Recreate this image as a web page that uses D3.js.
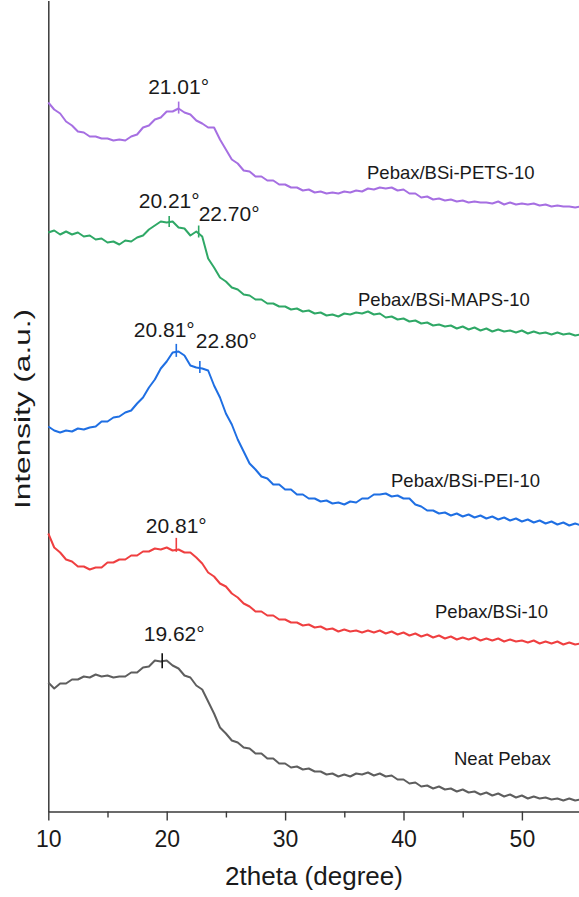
<!DOCTYPE html>
<html>
<head>
<meta charset="utf-8">
<script src="https://cdn.jsdelivr.net/npm/d3@7"></script>
<style>
  html, body { margin: 0; padding: 0; background: #fff; }
  svg { display: block; font-family: "Liberation Sans", Arial, sans-serif; }
</style>
</head>
<body>
<svg id="chart" width="579" height="897"></svg>
<script>
// ---------------- data ----------------
const twoTheta = [10,10.5,11,11.5,12,12.5,13,13.5,14,14.5,
  15,15.5,16,16.5,17,17.5,18,18.5,19,19.5,
  20,20.5,21,21.5,22,22.5,23,23.5,24,24.5,
  25,25.5,26,26.5,27,27.5,28,28.5,29,29.5,
  30,30.5,31,31.5,32,32.5,33,33.5,34,34.5,
  35,35.5,36,36.5,37,37.5,38,38.5,39,39.5,
  40,40.5,41,41.5,42,42.5,43,43.5,44,44.5,
  45,45.5,46,46.5,47,47.5,48,48.5,49,49.5,
  50,50.5,51,51.5,52,52.5,53,53.5,54,54.5,
  55];

const seriesNames = ["Pebax/BSi-PETS-10", "Pebax/BSi-MAPS-10", "Pebax/BSi-PEI-10", "Pebax/BSi-10", "Neat Pebax"];

// stacked intensities (a.u., offset as plotted)
const petsValues = [709,702,698,690,686,680,679,675,675,673,
  673,671,672,671,675,677,684,686,692,694,
  700,700,703,699,697,691,688,684,684,672,
  662,652,648,641,640,635,635,631,631,627,
  627,624,624,621,622,619,620,618,619,618,
  620,619,621,620,623,622,624,623,624,621,
  622,618,618,614,615,612,613,611,612,610,
  611,609,610,609,609,608,610,607,609,607,
  608,607,608,606,607,605,606,605,605,604,
  605];
const mapsValues = [579,581,577,580,577,579,575,576,572,573,
  569,570,567,571,570,574,576,582,586,590,
  589,590,584,583,576,580,575,553,544,534,
  530,524,522,517,516,512,512,508,508,505,
  505,502,503,500,501,498,499,496,497,495,
  498,497,499,498,500,497,498,494,495,492,
  493,490,491,488,489,486,487,485,486,483,
  485,482,484,481,483,480,482,480,481,479,
  481,478,480,478,479,477,479,477,478,476,
  477];
const peiValues = [385,381,379,381,380,383,382,384,385,390,
  390,394,395,399,401,408,414,424,432,443,
  450,459,460,456,446,444,443,441,426,414,
  398,387,372,360,348,342,335,333,327,327,
  322,322,317,317,313,313,310,311,308,309,
  307,310,309,313,313,317,317,318,315,316,
  313,313,307,305,301,301,298,299,296,298,
  295,297,294,296,293,295,292,294,291,293,
  290,292,289,291,288,290,287,289,286,288,
  286];
const bsiValues = [278,264,259,252,250,245,245,242,244,244,
  249,249,252,252,256,256,260,260,263,262,
  264,261,262,259,259,254,248,239,235,228,
  225,218,214,208,205,200,200,196,196,192,
  192,189,189,186,187,184,185,182,183,180,
  182,180,181,179,181,179,181,178,180,177,
  179,176,178,175,177,174,176,173,175,172,
  174,172,174,171,173,171,173,170,172,170,
  171,169,171,168,170,168,170,167,169,167,
  168];
const neatValues = [129,123,128,128,132,132,135,134,137,135,
  136,134,135,135,139,139,144,145,151,150,
  151,146,143,136,134,126,122,110,98,84,
  78,71,69,64,63,58,58,53,53,48,
  48,44,45,42,43,40,40,37,38,35,
  37,35,38,37,39,36,38,35,36,32,
  32,28,29,25,26,23,25,22,23,20,
  22,19,20,17,19,16,18,15,17,14,
  16,13,15,13,14,12,13,11,13,11,
  12];

const peakAngles = [21.01, 20.21, 22.70, 20.81, 22.80, 20.81, 19.62];
const peakLabels = ["21.01°", "20.21°", "22.70°", "20.81°", "22.80°", "20.81°", "19.62°"];
const peakSeries = [0, 1, 1, 2, 2, 3, 4];

const xTickValues = [10, 20, 30, 40, 50];
const xMinorTickValues = [15, 25, 35, 45, 55];

// ---------------- styles / layout ----------------
const allValues = [petsValues, mapsValues, peiValues, bsiValues, neatValues];
const colors = ["#a66fe2", "#2fa866", "#1f6fe3", "#ef3f40", "#5e5e5e"];
const labelPos = [[367, 179], [358, 306], [391, 487], [435, 618], [454, 765]];
const annLayout = [
  {dx: 0,   dy: -15, anchor: "middle", up: 7,  down: 5},
  {dx: 0,   dy: -14, anchor: "middle", up: 6,  down: 5},
  {dx: 0,   dy: -13, anchor: "start",  up: 8,  down: 4},
  {dx: -12, dy: -15, anchor: "middle", up: 8,  down: 5},
  {dx: -4,  dy: -20, anchor: "start",  up: 7,  down: 5},
  {dx: 0,   dy: -17, anchor: "middle", up: 12, down: 2},
  {dx: 12,  dy: -20, anchor: "middle", up: 8,  down: 7, color: "#111"}
];

const svg = d3.select("#chart");
const x = d3.scaleLinear().domain([10, 55]).range([48.3, 581.1]);
const y = d3.scaleLinear().domain([0, 811]).range([811.5, 0.5]);

// axes
const axisColor = "#3a3a3a";
const xAxisG = svg.append("g").attr("transform", `translate(0,${y(0)})`)
  .call(d3.axisBottom(x).tickValues(xTickValues).tickSize(9).tickSizeOuter(0).tickPadding(10).tickFormat(d3.format("d")));
svg.append("g").attr("transform", `translate(0,${y(0)})`)
  .call(d3.axisBottom(x).tickValues(xMinorTickValues).tickSize(6).tickSizeOuter(0).tickFormat(""))
  .call(g => g.select(".domain").remove());
svg.selectAll("g .tick line").attr("stroke", axisColor).attr("stroke-width", 1.4);
xAxisG.select(".domain").attr("stroke", axisColor).attr("stroke-width", 1.5);
xAxisG.selectAll(".tick text").attr("font-size", 23).attr("fill", "#1a1a1a")
  .attr("font-family", "'Liberation Sans', Arial, sans-serif");

const yAxisG = svg.append("g").attr("transform", `translate(${x(10)},0)`)
  .call(d3.axisLeft(y).tickValues([]).tickSizeOuter(0));
yAxisG.select(".domain").attr("stroke", axisColor).attr("stroke-width", 1.5);

// axis titles
svg.append("text").attr("x", 314).attr("y", 885).attr("text-anchor", "middle")
  .attr("font-size", 26).attr("fill", "#1a1a1a").text("2theta (degree)");
svg.append("text").attr("transform", "translate(30,409) rotate(-90)").attr("text-anchor", "middle")
  .attr("font-size", 22).attr("fill", "#1a1a1a")
  .attr("textLength", 200).attr("lengthAdjust", "spacingAndGlyphs")
  .text("Intensity (a.u.)");

// lines
const line = d3.line().x((d, i) => x(twoTheta[i])).y(d => y(d));
allValues.forEach((vals, k) => {
  svg.append("path").datum(vals)
    .attr("fill", "none").attr("stroke", colors[k]).attr("stroke-width", 2)
    .attr("stroke-linejoin", "round").attr("d", line);
  svg.append("text").attr("x", labelPos[k][0]).attr("y", labelPos[k][1])
    .attr("font-size", 18.5).attr("fill", "#1a1a1a").text(seriesNames[k]);
});

// peak markers and labels
peakAngles.forEach((a, i) => {
  const vals = allValues[peakSeries[i]];
  const v = d3.scaleLinear().domain(twoTheta).range(vals)(a);
  const px = x(a), py = y(v), L = annLayout[i];
  svg.append("line").attr("x1", px).attr("x2", px)
    .attr("y1", py - L.up).attr("y2", py + L.down)
    .attr("stroke", L.color || colors[peakSeries[i]]).attr("stroke-width", 1.6);
  svg.append("text").attr("x", px + L.dx).attr("y", py + L.dy)
    .attr("text-anchor", L.anchor).attr("font-size", 21).attr("fill", "#1a1a1a")
    .text(peakLabels[i]);
});
</script>
</body>
</html>
